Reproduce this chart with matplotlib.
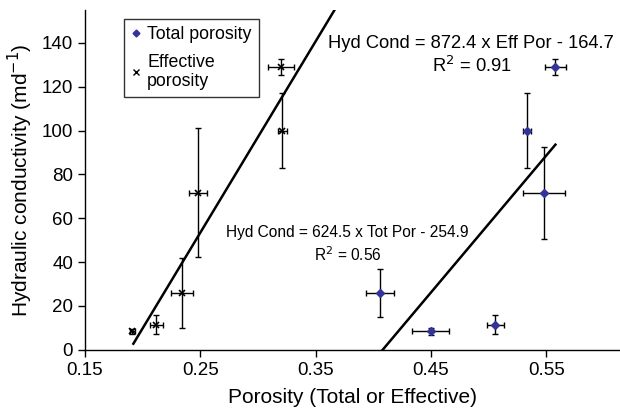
import matplotlib
matplotlib.use("Agg")
import matplotlib.pyplot as plt
import numpy as np
from matplotlib.lines import Line2D

plt.rcParams['font.family'] = ['Liberation Sans', 'DejaVu Sans']

# Total porosity data
tot_x = [0.450, 0.506, 0.406, 0.548, 0.533, 0.558]
tot_y = [8.4, 11.5, 25.8, 71.7, 100.0, 129.0]
tot_xerr = [0.016, 0.007, 0.012, 0.018, 0.0035, 0.009]
tot_yerr = [1.7, 4.3, 11.0, 21.0, 17.0, 3.5]

# Effective porosity data
eff_x = [0.191, 0.212, 0.234, 0.248, 0.321, 0.320]
eff_y = [8.4, 11.5, 25.8, 71.7, 100.0, 129.0]
eff_xerr = [0.002, 0.006, 0.0095, 0.0077, 0.004, 0.011]
eff_yerr = [1.0, 4.2, 16.0, 29.5, 17.0, 3.5]

# Regression fits
eff_slope, eff_icpt = 872.4, -164.7
tot_slope, tot_icpt = 624.5, -254.9
eff_range = [0.192, 0.368]
tot_range = [0.408, 0.558]

xticks = [0.15, 0.25, 0.35, 0.45, 0.55]
yticks = [0, 20, 40, 60, 80, 100, 120, 140]

fig = plt.figure(figsize=(6.2, 4.15), dpi=100)
ax = fig.add_axes([0.137, 0.157, 0.863, 0.819])

ax.errorbar(tot_x, tot_y, xerr=tot_xerr, yerr=tot_yerr, fmt='none',
            ecolor='black', elinewidth=1, capsize=2.5, capthick=1)
ax.errorbar(eff_x, eff_y, xerr=eff_xerr, yerr=eff_yerr, fmt='none',
            ecolor='black', elinewidth=1, capsize=2.5, capthick=1)
ax.plot(tot_x, tot_y, linestyle='none', marker='D', markersize=4,
        color='#333399')
ax.plot(eff_x, eff_y, linestyle='none', marker='x', markersize=5,
        color='black', markeredgewidth=1.2)

ex = np.array(eff_range)
ax.plot(ex, eff_slope * ex + eff_icpt, color='black', lw=1.8)
tx = np.array(tot_range)
ax.plot(tx, tot_slope * tx + tot_icpt, color='black', lw=1.8)

ax.set_xlim(0.15, 0.614)
ax.set_ylim(0, 155)
ax.set_xticks(xticks)
ax.set_xticklabels([f"{v:.2f}" for v in xticks])
ax.set_yticks(yticks)
ax.tick_params(labelsize=13.5, direction='out', length=5, width=1)
for s in ['top', 'right']:
    ax.spines[s].set_visible(False)
for s in ['left', 'bottom']:
    ax.spines[s].set_linewidth(1)

ax.set_xlabel('Porosity (Total or Effective)', fontsize=15, labelpad=7)
ax.set_ylabel('Hydraulic conductivity (md$^{-1}$)', fontsize=15, labelpad=5)

ax.text(0.4848, 139.8, 'Hyd Cond = 872.4 x Eff Por - 164.7', fontsize=13.2,
        ha='center', va='center')
ax.text(0.4855, 129.6, 'R$^2$ = 0.91', fontsize=13.2, ha='center', va='center')
ax.text(0.3775, 53.6, 'Hyd Cond = 624.5 x Tot Por - 254.9', fontsize=11.2,
        ha='center', va='center')
ax.text(0.378, 43.6, 'R$^2$ = 0.56', fontsize=11.2, ha='center', va='center')

handles = [Line2D([], [], linestyle='none', marker='D', markersize=3.5,
                  color='#333399'),
           Line2D([], [], linestyle='none', marker='x', markersize=4.5,
                  color='black')]
leg = ax.legend(handles, ['Total porosity', 'Effective\nporosity'],
                loc='upper left', bbox_to_anchor=(0.073, 0.974),
                borderaxespad=0, fontsize=12.8, frameon=True, fancybox=False,
                handlelength=0.5, handletextpad=0.4, borderpad=0.4,
                labelspacing=0.6)
leg.get_frame().set_edgecolor('black')
leg.get_frame().set_linewidth(1)

fig.savefig('out.png', dpi=100)
